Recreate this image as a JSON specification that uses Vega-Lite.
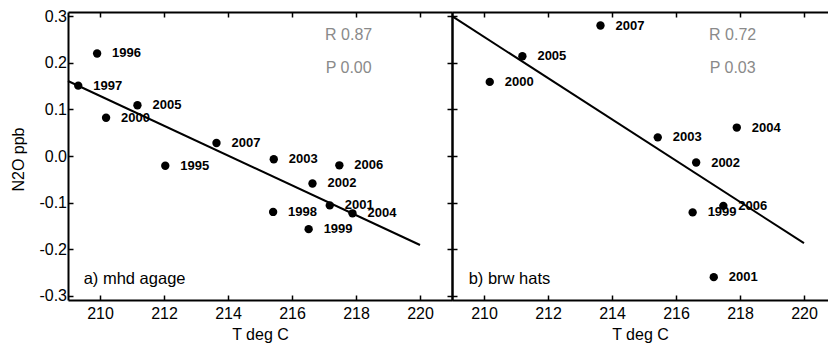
{
  "$schema": "https://vega.github.io/schema/vega-lite/v6.json",
  "padding": {"left": 10, "top": 8, "right": 0, "bottom": 0},
  "background": "white",
  "spacing": 0,
  "bounds": "flush",
  "config": {
    "font": "Liberation Sans",
    "view": {"stroke": null},
    "axis": {
      "grid": false,
      "domainColor": "black",
      "domainWidth": 2,
      "tickColor": "black",
      "tickWidth": 1.5,
      "tickSize": -5,
      "labelFontSize": 16,
      "labelColor": "black",
      "titleFontSize": 16,
      "titleFontWeight": "normal",
      "titleColor": "black"
    }
  },
  "datasets": {
    "pointsA": [
      {"t": 209.91, "n2o": 0.22, "year": "1996"},
      {"t": 209.32, "n2o": 0.151, "year": "1997"},
      {"t": 211.17, "n2o": 0.109, "year": "2005"},
      {"t": 210.19, "n2o": 0.082, "year": "2000"},
      {"t": 213.64, "n2o": 0.028, "year": "2007"},
      {"t": 212.04, "n2o": -0.021, "year": "1995"},
      {"t": 215.43, "n2o": -0.007, "year": "2003"},
      {"t": 215.41, "n2o": -0.12, "year": "1998"},
      {"t": 217.48, "n2o": -0.02, "year": "2006"},
      {"t": 216.64, "n2o": -0.059, "year": "2002"},
      {"t": 217.18, "n2o": -0.106, "year": "2001"},
      {"t": 217.89, "n2o": -0.123, "year": "2004"},
      {"t": 216.52, "n2o": -0.157, "year": "1999"}
    ],
    "lineA": [
      {"t": 209, "n2o": 0.161},
      {"t": 220, "n2o": -0.191}
    ],
    "statsA": [
      {"t": 217.77, "n2o": 0.259, "label": "R 0.87"},
      {"t": 217.77, "n2o": 0.189, "label": "P 0.00"}
    ],
    "panelA": [
      {"t": 209.49, "n2o": -0.263, "label": "a) mhd agage"}
    ],
    "pointsB": [
      {"t": 211.2, "n2o": 0.214, "year": "2005"},
      {"t": 210.18, "n2o": 0.159, "year": "2000"},
      {"t": 213.64, "n2o": 0.28, "year": "2007"},
      {"t": 215.43, "n2o": 0.04, "year": "2003"},
      {"t": 217.9, "n2o": 0.061, "year": "2004"},
      {"t": 216.63, "n2o": -0.014, "year": "2002"},
      {"t": 216.52, "n2o": -0.121, "year": "1999"},
      {"t": 217.48, "n2o": -0.107, "year": "2006"},
      {"t": 217.18, "n2o": -0.26, "year": "2001"}
    ],
    "lineB": [
      {"t": 209, "n2o": 0.3},
      {"t": 220, "n2o": -0.187}
    ],
    "statsB": [
      {"t": 217.77, "n2o": 0.259, "label": "R 0.72"},
      {"t": 217.77, "n2o": 0.189, "label": "P 0.03"}
    ],
    "panelB": [
      {"t": 209.52, "n2o": -0.263, "label": "b) brw hats"}
    ]
  },
  "hconcat": [
    {
      "width": 384,
      "height": 288,
      "layer": [
        {
          "data": {"name": "lineA"},
          "mark": {"type": "line", "color": "black", "strokeWidth": 2},
          "encoding": {
            "x": {"field": "t", "type": "quantitative", "scale": {"domain": [209, 221], "nice": false, "zero": false},
                  "axis": {"orient": "top", "labels": false, "title": null, "values": [210, 212, 214, 216, 218, 220]}},
            "y": {"field": "n2o", "type": "quantitative", "scale": {"domain": [-0.309, 0.309], "nice": false, "zero": false},
                  "axis": {"orient": "right", "labels": false, "title": null, "values": [-0.3, -0.2, -0.1, 0, 0.1, 0.2, 0.3]}}
          }
        },
        {
          "data": {"name": "pointsA"},
          "mark": {"type": "point", "filled": true, "color": "black", "opacity": 1, "size": 70},
          "encoding": {
            "x": {"field": "t", "type": "quantitative",
                  "axis": {"orient": "bottom", "title": "T deg C", "values": [210, 212, 214, 216, 218, 220], "labelPadding": 10, "titleY": 39.5, "titleBaseline": "alphabetic"}},
            "y": {"field": "n2o", "type": "quantitative",
                  "axis": {"orient": "left", "title": "N2O ppb", "values": [-0.3, -0.2, -0.1, 0, 0.1, 0.2, 0.3], "format": ".1f",
                           "labelExpr": "replace(datum.label, '\u2212', '-')", "labelPadding": 6.5,
                           "titleX": -45, "titleY": 147, "titleAngle": -90, "titleAlign": "center", "titleBaseline": "alphabetic"}}
          }
        },
        {
          "data": {"name": "pointsA"},
          "mark": {"type": "text", "align": "left", "baseline": "middle", "dx": 15, "fontSize": 13, "fontWeight": "bold", "color": "black"},
          "encoding": {
            "x": {"field": "t", "type": "quantitative", "axis": null},
            "y": {"field": "n2o", "type": "quantitative", "axis": null},
            "text": {"field": "year"}
          }
        },
        {
          "data": {"name": "statsA"},
          "mark": {"type": "text", "align": "center", "baseline": "middle", "fontSize": 16, "color": "#8a8a8a"},
          "encoding": {
            "x": {"field": "t", "type": "quantitative", "axis": null},
            "y": {"field": "n2o", "type": "quantitative", "axis": null},
            "text": {"field": "label"}
          }
        },
        {
          "data": {"name": "panelA"},
          "mark": {"type": "text", "align": "left", "baseline": "middle", "fontSize": 16.5, "color": "black"},
          "encoding": {
            "x": {"field": "t", "type": "quantitative", "axis": null},
            "y": {"field": "n2o", "type": "quantitative", "axis": null},
            "text": {"field": "label"}
          }
        }
      ],
      "resolve": {"axis": {"x": "independent", "y": "independent"}}
    },
    {
      "width": 376,
      "height": 288,
      "layer": [
        {
          "data": {"name": "lineB"},
          "mark": {"type": "line", "color": "black", "strokeWidth": 2},
          "encoding": {
            "x": {"field": "t", "type": "quantitative", "scale": {"domain": [209, 220.75], "nice": false, "zero": false},
                  "axis": {"orient": "top", "labels": false, "title": null, "values": [210, 212, 214, 216, 218, 220]}},
            "y": {"field": "n2o", "type": "quantitative", "scale": {"domain": [-0.309, 0.309], "nice": false, "zero": false},
                  "axis": {"orient": "left", "labels": false, "title": null, "values": [-0.3, -0.2, -0.1, 0, 0.1, 0.2, 0.3]}}
          }
        },
        {
          "data": {"name": "pointsB"},
          "mark": {"type": "point", "filled": true, "color": "black", "opacity": 1, "size": 70},
          "encoding": {
            "x": {"field": "t", "type": "quantitative",
                  "axis": {"orient": "bottom", "title": "T deg C", "values": [210, 212, 214, 216, 218, 220], "labelPadding": 10, "titleY": 39.5, "titleBaseline": "alphabetic"}},
            "y": {"field": "n2o", "type": "quantitative", "axis": null}
          }
        },
        {
          "data": {"name": "pointsB"},
          "mark": {"type": "text", "align": "left", "baseline": "middle", "dx": 15, "fontSize": 13, "fontWeight": "bold", "color": "black"},
          "encoding": {
            "x": {"field": "t", "type": "quantitative", "axis": null},
            "y": {"field": "n2o", "type": "quantitative", "axis": null},
            "text": {"field": "year"}
          }
        },
        {
          "data": {"name": "statsB"},
          "mark": {"type": "text", "align": "center", "baseline": "middle", "fontSize": 16, "color": "#8a8a8a"},
          "encoding": {
            "x": {"field": "t", "type": "quantitative", "axis": null},
            "y": {"field": "n2o", "type": "quantitative", "axis": null},
            "text": {"field": "label"}
          }
        },
        {
          "data": {"name": "panelB"},
          "mark": {"type": "text", "align": "left", "baseline": "middle", "fontSize": 16.5, "color": "black"},
          "encoding": {
            "x": {"field": "t", "type": "quantitative", "axis": null},
            "y": {"field": "n2o", "type": "quantitative", "axis": null},
            "text": {"field": "label"}
          }
        }
      ],
      "resolve": {"axis": {"x": "independent", "y": "independent"}}
    }
  ]
}
